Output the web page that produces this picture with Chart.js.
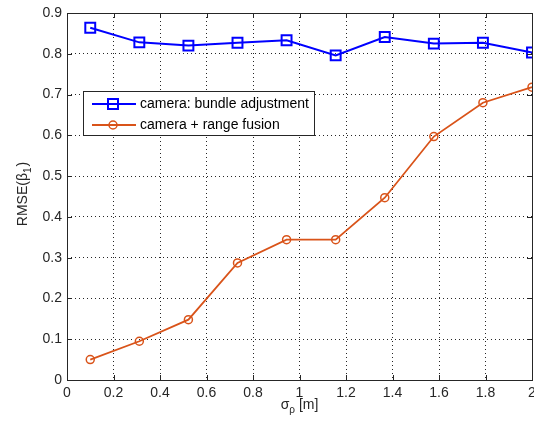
<!DOCTYPE html>
<html><head><meta charset="utf-8">
<script src="https://cdn.jsdelivr.net/npm/chart.js@4/dist/chart.umd.min.js"></script>
<style>html,body{margin:0;padding:0;background:#fff}#wrap{width:534px;height:427px}</style>
</head><body><div id="wrap"><canvas id="c" width="534" height="427"></canvas></div>
<script>
const sigmaValues = [0.1, 0.3111, 0.5222, 0.7333, 0.9444, 1.1556, 1.3667, 1.5778, 1.7889, 2.0];
const bundleAdjustment = [0.864, 0.828, 0.820, 0.827, 0.833, 0.796, 0.841, 0.825, 0.827, 0.803];
const rangeFusion = [0.050, 0.095, 0.148, 0.287, 0.344, 0.344, 0.447, 0.597, 0.680, 0.718];
const seriesLabels = ['camera: bundle adjustment', 'camera + range fusion'];
const xTickValues = [0, 0.2, 0.4, 0.6, 0.8, 1, 1.2, 1.4, 1.6, 1.8, 2];
const yTickValues = [0, 0.1, 0.2, 0.3, 0.4, 0.5, 0.6, 0.7, 0.8, 0.9];

const FONT = '"Liberation Sans", Arial, Helvetica, sans-serif';
const BLUE = 'rgb(0,0,255)';
const ORANGE = 'rgb(217,83,25)';

const toPts = (ys) => ys.map((y, i) => ({x: sigmaValues[i], y}));
const fmt = (v) => String(Number(Number(v).toFixed(1)));

const framePlugin = {
  id: 'frame',
  beforeDraw(chart) {
    const ctx = chart.ctx;
    ctx.save(); ctx.fillStyle = '#fff'; ctx.fillRect(0, 0, chart.width, chart.height); ctx.restore();
  },
  afterDraw(chart) {
    const ctx = chart.ctx, a = chart.chartArea;
    const xs = chart.scales.x, ys = chart.scales.y;
    ctx.save();
    ctx.strokeStyle = '#262626'; ctx.lineWidth = 1;
    ctx.strokeRect(Math.round(a.left) + 0.5, Math.round(a.top) + 0.5, Math.round(a.right - a.left), Math.round(a.bottom - a.top));
    // inner ticks
    const tl = 5;
    ctx.beginPath();
    xTickValues.forEach(v => {
      const px = Math.round(xs.getPixelForValue(v)) + 0.5;
      ctx.moveTo(px, a.bottom); ctx.lineTo(px, a.bottom - tl);
      ctx.moveTo(px, a.top); ctx.lineTo(px, a.top + tl);
    });
    yTickValues.forEach(v => {
      const py = Math.round(ys.getPixelForValue(v)) + 0.5;
      ctx.moveTo(a.left, py); ctx.lineTo(a.left + tl, py);
      ctx.moveTo(a.right, py); ctx.lineTo(a.right - tl, py);
    });
    ctx.stroke();

    // axis titles with subscripts
    ctx.fillStyle = '#262626';
    ctx.textBaseline = 'alphabetic';
    const big = '14px ' + FONT, small = '10px ' + FONT;
    const xc = (a.left + a.right) / 2;
    ctx.font = big; const w1 = ctx.measureText('\u03C3').width;
    ctx.font = small; const w2 = ctx.measureText('\u03C1').width;
    ctx.font = big; const w3 = ctx.measureText(' [m]').width;
    let x0 = xc - (w1 + w2 + w3) / 2;
    const yb = 409;
    ctx.textAlign = 'left';
    ctx.font = big; ctx.fillText('\u03C3', x0, yb);
    ctx.font = small; ctx.fillText('\u03C1', x0 + w1, yb + 4);
    ctx.font = big; ctx.fillText(' [m]', x0 + w1 + w2, yb);
    // y title
    ctx.save();
    ctx.translate(27, (a.top + a.bottom) / 2 - 2);
    ctx.rotate(-Math.PI / 2);
    ctx.font = big; const t1 = ctx.measureText('RMSE(\u03B2').width;
    ctx.font = small; const t2 = ctx.measureText('1').width;
    ctx.font = big; const t3 = ctx.measureText(')').width;
    let s0 = -(t1 + t2 + t3) / 2;
    ctx.font = big; ctx.fillText('RMSE(\u03B2', s0, 0);
    ctx.font = small; ctx.fillText('1', s0 + t1, 4);
    ctx.font = big; ctx.fillText(')', s0 + t1 + t2 + 1, 0);
    ctx.restore();

    // legend
    const lx = 83.5, ly = 91.5, lw = 231, lh = 44;
    ctx.fillStyle = '#fff'; ctx.fillRect(lx, ly, lw, lh);
    ctx.strokeStyle = '#262626'; ctx.lineWidth = 1; ctx.strokeRect(lx, ly, lw, lh);
    chart.data.datasets.forEach((ds, i) => {
      const ry = 104 + i * 21;
      ctx.strokeStyle = ds.borderColor; ctx.lineWidth = ds.borderWidth;
      ctx.beginPath(); ctx.moveTo(92, ry); ctx.lineTo(136, ry); ctx.stroke();
      ctx.lineWidth = ds.pointBorderWidth;
      ctx.beginPath();
      if (ds.pointStyle === 'rect') { ctx.rect(113 - 5, ry - 5, 10, 10); }
      else { ctx.arc(113, ry, 4, 0, Math.PI * 2); }
      ctx.stroke();
      ctx.fillStyle = '#000'; ctx.font = big; ctx.textBaseline = 'middle';
      ctx.fillText(ds.label, 140, ry);
    });
    ctx.restore();
  }
};

new Chart(document.getElementById('c'), {
  type: 'line',
  data: {
    datasets: [
      { label: seriesLabels[0], data: toPts(bundleAdjustment), borderColor: BLUE, borderWidth: 2,
        pointStyle: 'rect', pointRadius: 7, pointBorderWidth: 2, pointBackgroundColor: 'rgba(0,0,0,0)',
        pointBorderColor: BLUE, clip: 1, tension: 0 },
      { label: seriesLabels[1], data: toPts(rangeFusion), borderColor: ORANGE, borderWidth: 1.8,
        pointStyle: 'circle', pointRadius: 4, pointBorderWidth: 1.5, pointBackgroundColor: 'rgba(0,0,0,0)',
        pointBorderColor: ORANGE, clip: 1, tension: 0 }
    ]
  },
  options: {
    responsive: false, animation: false, devicePixelRatio: 1,
    layout: { autoPadding: false, padding: { left: 0, right: 2, top: 13, bottom: 0 } },
    plugins: { legend: { display: false }, tooltip: { enabled: false } },
    scales: {
      x: {
        type: 'linear', min: 0, max: 2,
        afterFit: (s) => { s.height = 47; s.paddingRight = 0; s.paddingLeft = 0; },
        afterBuildTicks: (s) => { s.ticks = xTickValues.map(v => ({value: v})); },
        ticks: { callback: fmt, color: '#262626', font: { family: FONT, size: 14 }, padding: 5, maxRotation: 0, autoSkip: false },
        grid: { color: 'rgba(0,0,0,0.85)', lineWidth: 1, drawTicks: false },
        border: { display: false, dash: [1, 3] }
      },
      y: {
        type: 'linear', min: 0, max: 0.9,
        afterFit: (s) => { s.width = 67; s.paddingTop = 0; s.paddingBottom = 0; },
        afterBuildTicks: (s) => { s.ticks = yTickValues.map(v => ({value: v})); },
        ticks: { callback: fmt, color: '#262626', font: { family: FONT, size: 14 }, padding: 5, autoSkip: false },
        grid: { color: 'rgba(0,0,0,0.85)', lineWidth: 1, drawTicks: false },
        border: { display: false, dash: [1, 3] }
      }
    }
  },
  plugins: [framePlugin]
});
</script></body></html>
